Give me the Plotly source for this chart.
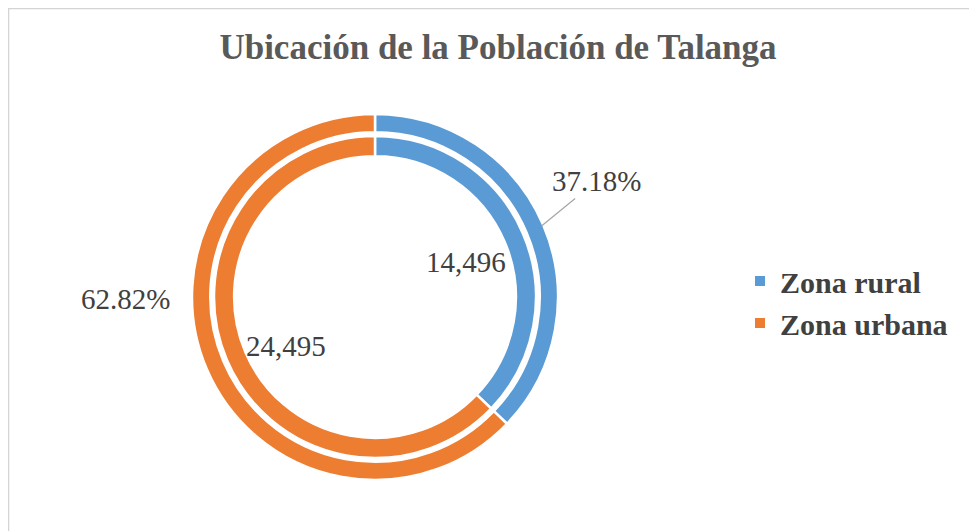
import math
import plotly.graph_objects as go

labels = ["Zona rural", "Zona urbana"]
values = [14496, 24495]
colors = ["#5B9BD5", "#ED7D31"]
title = "Ubicación de la Población de Talanga"

W, H = 977, 531
OFF = 8  # page body margin
CX, CY = 375 - OFF, 297 - OFF
R_OUT = 183
R_IN = 161

total = sum(values)
pcts = [v / total * 100 for v in values]

def dom(cx, cy, r):
    return dict(x=[(cx - r) / W, (cx + r) / W], y=[1 - (cy + r) / H, 1 - (cy - r) / H])

def px(x, y):
    return (x - OFF) / W, 1 - (y - OFF) / H

fig = go.Figure()
fig.add_trace(go.Pie(
    labels=labels, values=values, sort=False, direction="clockwise", rotation=0,
    hole=0.9, domain=dom(CX, CY, R_OUT), textinfo="none", hoverinfo="label+percent",
    marker=dict(colors=colors, line=dict(color="white", width=2.5)), showlegend=True,
))
fig.add_trace(go.Pie(
    labels=labels, values=values, sort=False, direction="clockwise", rotation=0,
    hole=0.875, domain=dom(CX, CY, R_IN), textinfo="none", hoverinfo="label+value",
    marker=dict(colors=colors, line=dict(color="white", width=2.5)), showlegend=False,
))

font_lbl = dict(family="Liberation Serif", size=29, color="#404040")
ann = dict(xref="paper", yref="paper", xanchor="center", yanchor="middle", font=font_lbl)

# percentage of rural with leader line from mid-angle of its slice
theta = math.radians(pcts[0] / 100 * 360 / 2)
ax_ = CX + (R_OUT - 2) * math.sin(theta)
ay_ = CY - (R_OUT - 2) * math.cos(theta)
fig.add_annotation(x=ax_ / W, y=1 - ay_ / H, text=f"{pcts[0]:.2f}%", showarrow=True,
                   arrowhead=0, arrowwidth=1.2, arrowcolor="#A6A6A6", ax=55, ay=-45,
                   standoff=0, **ann)
x, y = px(125, 299)
fig.add_annotation(x=x, y=y, text=f"{pcts[1]:.2f}%", showarrow=False, **ann)
x, y = px(466, 262)
fig.add_annotation(x=x, y=y, text=f"{values[0]:,}", showarrow=False, **ann)
x, y = px(286, 346)
fig.add_annotation(x=x, y=y, text=f"{values[1]:,}", showarrow=False, **ann)

fig.add_shape(type="rect", xref="paper", yref="paper", x0=0.5 / W, x1=1.02, y0=-0.02, y1=1 - 0.5 / H,
              line=dict(color="#D4D4D4", width=1.5))

tx, ty = px(498, 47)
lx, ly = px(740, 302)
fig.update_layout(
    width=W, height=H,
    margin=dict(l=0, r=0, t=0, b=0),
    paper_bgcolor="white", plot_bgcolor="white",
    title=dict(text=f"<b>{title}</b>", x=tx, xanchor="center", y=ty, yanchor="middle",
               font=dict(family="Liberation Serif", size=35, color="#595959")),
    legend=dict(x=lx, y=ly, xanchor="left", yanchor="middle",
                font=dict(family="Liberation Serif", size=30, color="#404040", weight="bold"),
                itemsizing="constant", bgcolor="rgba(0,0,0,0)"),
)

fig.write_html("out.html")
